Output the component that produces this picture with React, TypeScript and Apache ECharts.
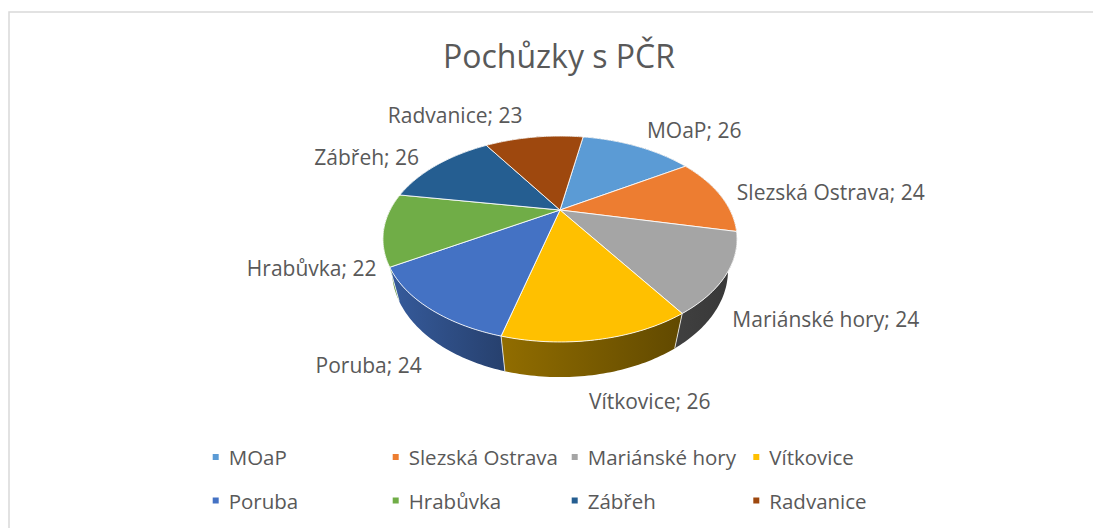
import React, { useEffect, useRef } from "react";
import * as echarts from "echarts";

const categories = ["MOaP", "Slezská Ostrava", "Mariánské hory", "Vítkovice", "Poruba", "Hrabůvka", "Zábřeh", "Radvanice"];
const values = [26, 24, 24, 26, 24, 22, 26, 23];
const colors = ["#5B9BD5", "#ED7D31", "#A5A5A5", "#FFC000", "#4472C4", "#70AD47", "#255E91", "#9E480E"];
const titleText = "Pochůzky s PČR";

const FONT = "'Open Sans', 'Noto Sans', sans-serif";
const TEXT_COLOR = "#595959";

// pseudo-3D projection of the pie disc
const CX = 560, CY = 210, RA = 169.9, RB = 94.8, PK = 0.2816, PM = 0.05, PC = 33.6, START = 10;
const LEG_X = [212.7, 392.7, 571.7, 753.3];
const LEG_Y = [445, 488.5];

function proj(deg: number, r: number, s: number): number[] {
  const t = (deg * Math.PI) / 180;
  const u = r * Math.sin(t);
  const v = -r * Math.cos(t);
  const D = 1 - PK * v + PM * s;
  return [CX + (RA * u) / D, CY + (RB * v + PC * s) / D];
}

function shade(deg: number): number {
  const d = ((deg % 360) + 360) % 360;
  const pts = [[0, 0.32], [90, 0.32], [147, 0.38], [195, 0.57], [240, 0.8], [270, 0.85], [360, 0.85]];
  for (let i = 0; i < pts.length - 1; i++) {
    const [a, fa] = pts[i];
    const [b, fb] = pts[i + 1];
    if (d >= a && d <= b) return fa + ((fb - fa) * (d - a)) / (b - a);
  }
  return 0.5;
}

function mix(hex: string, f: number): string {
  const n = parseInt(hex.slice(1), 16);
  const r = Math.round(((n >> 16) & 255) * f);
  const g = Math.round(((n >> 8) & 255) * f);
  const b = Math.round((n & 255) * f);
  return `rgb(${r},${g},${b})`;
}

function arc(a1: number, a2: number, s: number): number[][] {
  const pts: number[][] = [];
  const steps = Math.max(2, Math.ceil(Math.abs(a2 - a1)));
  for (let i = 0; i <= steps; i++) pts.push(proj(a1 + ((a2 - a1) * i) / steps, 1, s));
  return pts;
}

export default function App() {
  const ref = useRef<HTMLDivElement>(null);
  useEffect(() => {
    document.body.style.margin = "0";
    document.body.style.overflow = "hidden";
    if (!ref.current) return;
    const chart = echarts.init(ref.current, undefined, { renderer: "svg" });
    const total = values.reduce((a, b) => a + b, 0);
    const cum: number[] = [];
    values.reduce((acc, v, i) => {
      cum[i] = acc;
      return acc + v;
    }, 0);

    const angles = (val: number, before: number, tot: number) => {
      const a1 = START + (before / tot) * 360;
      const a2 = START + ((before + val) / tot) * 360;
      return [a1, a2];
    };

    const wallSeries: any = {
      type: "custom",
      name: "__walls",
      coordinateSystem: "none",
      silent: true,
      z: 1,
      data: values.map((v, i) => [v, cum[i], total, i]),
      renderItem: (_params: any, api: any) => {
        const [a1, a2] = angles(api.value(0), api.value(1), api.value(2));
        const c = colors[api.value(3)];
        const top = arc(a1, a2, 0);
        const bot = arc(a1, a2, 1).reverse();
        const x1 = proj(a1, 1, 0)[0];
        let x2 = proj(a2, 1, 0)[0];
        if (Math.abs(x2 - x1) < 1) x2 = x1 + 1;
        const children: any[] = [
          {
            type: "polygon",
            shape: { points: top.concat(bot) },
            style: {
              fill: new echarts.graphic.LinearGradient(x1, 0, x2, 0, [
                { offset: 0, color: mix(c, shade(a1)) },
                { offset: 1, color: mix(c, shade(a2)) },
              ], true),
              stroke: null,
            },
          },
        ];
        const p0 = proj(a1, 1, 0);
        const p1 = proj(a1, 1, 1);
        children.push({
          type: "line",
          z2: 5,
          shape: { x1: p0[0], y1: p0[1], x2: p1[0], y2: p1[1] },
          style: { stroke: "rgba(255,255,255,0.75)", lineWidth: 1 },
        });
        return { type: "group", children };
      },
    };

    const topSeries = categories.map((name, i) => ({
      type: "custom",
      name,
      coordinateSystem: "none",
      z: 2,
      itemStyle: { color: colors[i] },
      data: [[values[i], cum[i], total, i]],
      renderItem: (_params: any, api: any) => {
        const val = api.value(0);
        const [a1, a2] = angles(val, api.value(1), api.value(2));
        const idx = api.value(3);
        const pts = [[CX, CY]].concat(arc(a1, a2, 0));
        const mid = ((a1 + a2) / 2) * (Math.PI / 180);
        const u = Math.sin(mid);
        const v = -Math.cos(mid);
        const anchor = proj((a1 + a2) / 2, 1.08, v > 0 ? 1 : 0);
        const align = u > 0.1 ? "left" : u < -0.1 ? "right" : "center";
        const valign = v < -0.6 ? "bottom" : v > 0.6 ? "top" : "middle";
        let dx = 0;
        if (align === "left") dx = v > 0.6 ? -11 : v > 0 ? 0 : 5;
        if (align === "right") dx = v > 0 ? -2 : -10;
        let dy = 0;
        if (valign === "middle") dy = v > 0 ? 4.5 : 8 * v;
        if (valign === "bottom") dy = u < 0 ? -6 : 0;
        return {
          type: "group",
          children: [
            {
              type: "polygon",
              shape: { points: pts },
              style: { fill: colors[idx], stroke: "rgba(255,255,255,0.85)", lineWidth: 1, lineJoin: "round" },
            },
            {
              type: "text",
              style: {
                text: `${categories[idx]}; ${val}`,
                x: anchor[0] + dx,
                y: anchor[1] + dy,
                fill: TEXT_COLOR,
                font: `21px ${FONT}`,
                lineHeight: 24,
                textAlign: align,
                textVerticalAlign: valign,
                align,
                verticalAlign: valign,
              },
            },
          ],
        };
      },
    }));

    const legends = categories.map((name, i) => ({
      data: [name],
      left: LEG_X[i % 4],
      top: LEG_Y[Math.floor(i / 4)],
      icon: "rect",
      itemWidth: 6,
      itemHeight: 6,
      padding: 0,
      selectedMode: false,
      textStyle: { fontSize: 20.5, color: TEXT_COLOR, fontFamily: FONT, lineHeight: 24, padding: [0, 0, 0, 5] },
    }));

    chart.setOption({
      animation: false,
      backgroundColor: "#ffffff",
      title: {
        text: titleText,
        left: 443,
        top: 35,
        padding: 0,
        textStyle: { fontSize: 32, fontWeight: "normal", color: TEXT_COLOR, fontFamily: FONT, lineHeight: 40 },
      },
      legend: legends,
      graphic: [
        {
          type: "rect",
          shape: { x: 9, y: 12, width: 1200, height: 700 },
          style: { fill: "none", stroke: "#d9d9d9", lineWidth: 1.5 },
          silent: true,
        },
      ],
      series: [wallSeries, ...topSeries],
    });
    return () => chart.dispose();
  }, []);
  return <div ref={ref} style={{ width: 1093, height: 528 }} />;
}
